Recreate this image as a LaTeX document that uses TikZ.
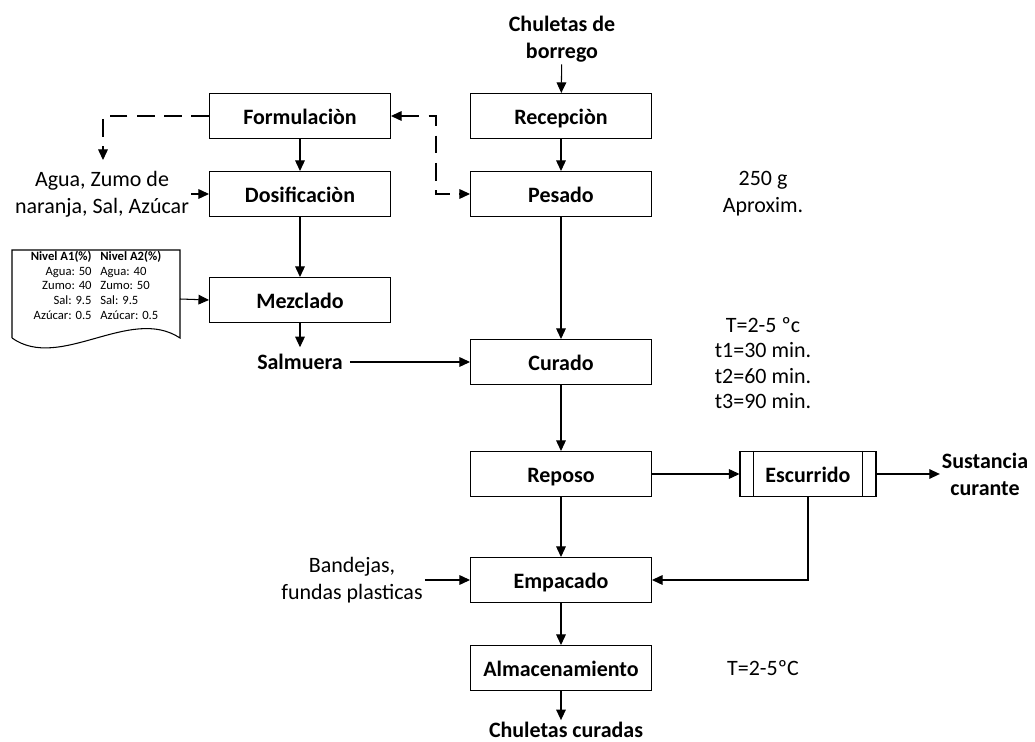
\documentclass[tikz,border=0pt]{standalone}
\usepackage{fontspec}
\setmainfont{Carlito}
\usetikzlibrary{arrows.meta,positioning}

\begin{document}
\begin{tikzpicture}[x=0.02cm,y=-0.02cm,
    proc/.style={draw, semithick, minimum width=3.62cm, minimum height=0.9cm, inner sep=0pt,
        text height=1.0em, text depth=0.02em, font=\bfseries\fontsize{12.5}{14}\selectfont},
    txt/.style={align=center, inner sep=1pt, font=\fontsize{12.5}{15.5}\selectfont},
    btxt/.style={align=center, inner sep=1pt, font=\bfseries\fontsize{12.5}{15.5}\selectfont},
    flow/.style={semithick, -{Triangle[length=6pt,width=5.5pt]}},
    dflow/.style={flow, dash pattern=on 10pt off 5.5pt}]
    \useasboundingbox (0,0) rectangle (1035,742);

    % pasos del proceso
    \node[proc] (form) at (300,116) {Formulaciòn};
    \node[proc] (rec) at (561,116) {Recepciòn};
    \node[proc] (dos) at (300,194) {Dosificaciòn};
    \node[proc] (pes) at (561,194) {Pesado};
    \node[proc] (mez) at (300,300) {Mezclado};
    \node[proc] (cur) at (561,362) {Curado};
    \node[proc] (rep) at (561,474) {Reposo};
    \node[proc, minimum width=2.72cm] (esc) at (808,474) {Escurrido};
    \draw[semithick] (esc.north west) ++(14,0) -- ++(0,45);
    \draw[semithick] (esc.north east) ++(-14,0) -- ++(0,45);
    \node[proc] (emp) at (561,580) {Empacado};
    \node[proc] (alm) at (561,668) {Almacenamiento};

    % entradas, salidas y notas
    \node[btxt] (chb) at (562,39) {Chuletas de\\borrego};
    \node[txt] (agua) at (102,194) {Agua, Zumo de\\naranja, Sal, Azúcar};
    \node[btxt, outer sep=3pt] (salm) at (300,362) {Salmuera};
    \node[txt] (peso) at (763,194) {250 g\\Aproxim.};
    \node[txt, font=\fontsize{12.5}{14.5}\selectfont] (cond) at (763,363) {T=2-5 ºc\\t1=30 min.\\t2=60 min.\\t3=90 min.};
    \node[btxt] (sust) at (985,474) {Sustancia\\curante};
    \node[txt] (band) at (352,580) {Bandejas,\\fundas plasticas};
    \node[txt] (talm) at (763,668) {T=2-5ºC};
    \node[btxt] (chc) at (566,730) {Chuletas curadas};

    % hoja de formulacion
    \draw[semithick] (12,338) -- (12,250) -- (180,250) -- (180,338)
        .. controls (130,305) and (60,372) .. (12,338);
    \node[inner sep=0pt, font=\fontsize{7.2}{8.5}\selectfont] (tabla) at (96,287) {%
        \begin{tabular}{@{}r@{\hspace{5pt}}l@{}}
        \textbf{Nivel A1(\%)} & \textbf{Nivel A2(\%)}\\
        Agua: 50 & Agua: 40\\
        Zumo: 40 & Zumo: 50\\
        Sal: 9.5 & Sal: 9.5\\
        Azúcar: 0.5 & Azúcar: 0.5
        \end{tabular}};
    \coordinate (hoja) at (180,299);
    \coordinate (fdown) at (103,160);
    \coordinate (dk) at (436,116);

    \draw[flow] (chb) -- (rec);
    \draw[flow] (rec) -- (pes);
    \draw[flow] (form) -- (dos);
    \draw[flow] (dos) -- (mez);
    \draw[flow] (agua.east) -- (dos.west);
    \draw[flow] (hoja) -- (mez.west);
    \draw[flow] (mez) -- (salm);
    \draw[flow] (pes) -- (cur);
    \draw[flow] (salm) -- (cur);
    \draw[flow] (cur) -- (rep);
    \draw[flow] (rep) -- (esc);
    \draw[flow] (esc) -- (sust);
    \draw[flow] (esc.south) |- (emp.east);
    \draw[flow] (rep) -- (emp);
    \draw[flow] (band) -- (emp);
    \draw[flow] (emp) -- (alm);
    \draw[flow] (alm.south) -- (alm.south |- chc.north);
    \draw[dflow] (form.west) -| (fdown);
    \draw[dflow, {Triangle[length=6pt,width=5.5pt]}-{Triangle[length=6pt,width=5.5pt]}] (form.east) -- (dk) |- (pes.west);
\end{tikzpicture}
\end{document}
